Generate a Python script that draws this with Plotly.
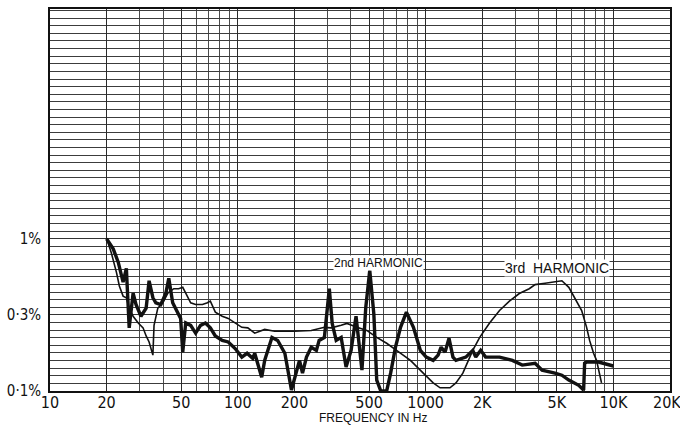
import numpy as np
import plotly.graph_objects as go

# 2nd harmonic distortion (thick trace): frequency in Hz, distortion in %
h2_freq = [20.0, 21.7, 23.1, 24.5, 25.5, 26.1, 26.4, 27.7, 28.7, 30.5, 32.5, 33.7, 35.3, 36.6,
           38.9, 41.4, 42.9, 45.0, 47.9, 49.6, 50.9, 52.8, 56.1, 59.6, 63.3, 67.2, 71.4, 75.9,
           82.6, 88.9, 96.8, 105, 112, 120, 123, 134, 139, 152, 163, 178, 193, 205, 213, 221,
           232, 246, 262, 271, 289, 307, 318, 334, 355, 377, 401, 426, 441, 458, 480, 504,
           530, 549, 577, 620, 651, 691, 735, 790, 861, 937, 1007, 1097, 1165, 1209, 1269,
           1332, 1398, 1450, 1637, 1782, 1848, 1964, 2086, 2474, 2896, 3269, 3828, 4169,
           4880, 5313, 5785, 6531, 6937, 7022, 7195, 8325, 9990]
h2_pct = [1.0, 0.86, 0.70, 0.52, 0.64, 0.39, 0.26, 0.44, 0.37, 0.31, 0.35, 0.53, 0.41, 0.38,
          0.37, 0.44, 0.55, 0.38, 0.33, 0.30, 0.18, 0.28, 0.27, 0.24, 0.27, 0.28, 0.26, 0.23,
          0.215, 0.21, 0.19, 0.167, 0.177, 0.164, 0.177, 0.123, 0.159, 0.225, 0.215, 0.177,
          0.1015, 0.137, 0.159, 0.131, 0.167, 0.194, 0.185, 0.215, 0.225, 0.47, 0.278, 0.215,
          0.225, 0.144, 0.185, 0.31, 0.215, 0.137, 0.354, 0.62, 0.32, 0.118, 0.1, 0.1, 0.131,
          0.194, 0.262, 0.33, 0.262, 0.185, 0.167, 0.159, 0.172, 0.194, 0.18, 0.222, 0.167,
          0.159, 0.167, 0.185, 0.167, 0.185, 0.167, 0.167, 0.159, 0.148, 0.152, 0.137, 0.131,
          0.127, 0.118, 0.109, 0.1015, 0.152, 0.155, 0.155, 0.146]

# 3rd harmonic distortion (thin trace)
h3_freq = [20.0, 21.2, 22.6, 23.4, 24.5, 25.5, 26.4, 27.7, 29.5, 31.3, 32.5, 33.7, 35.3, 35.8,
           37.5, 39.9, 42.4, 45.6, 48.4, 50.9, 52.8, 56.1, 59.6, 64.8, 68.9, 71.4, 75.9, 82.6,
           88.9, 96.8, 105, 113, 123, 139, 157, 200, 246, 289, 314, 355, 381, 431, 486, 549,
           620, 700, 830, 971, 1097, 1194, 1348, 1450, 1578, 1782, 1940, 2190, 2474, 2793,
           3153, 3560, 3828, 4324, 4880, 5313, 5785, 6222, 6772, 7195, 7464, 7836, 8127, 8637]
h3_pct = [1.01, 0.81, 0.60, 0.49, 0.42, 0.41, 0.35, 0.31, 0.28, 0.26, 0.23, 0.21, 0.172, 0.27,
          0.35, 0.38, 0.44, 0.47, 0.47, 0.48, 0.44, 0.38, 0.37, 0.37, 0.38, 0.39, 0.33, 0.31,
          0.30, 0.28, 0.262, 0.26, 0.24, 0.254, 0.247, 0.247, 0.25, 0.262, 0.26, 0.27, 0.278,
          0.262, 0.25, 0.225, 0.206, 0.185, 0.159, 0.131, 0.113, 0.105, 0.105, 0.113, 0.131,
          0.185, 0.225, 0.28, 0.338, 0.39, 0.437, 0.47, 0.50, 0.51, 0.52, 0.53, 0.48, 0.41,
          0.338, 0.262, 0.215, 0.177, 0.159, 0.113]

# Axis labelling
x_tick_vals = [10, 20, 50, 100, 200, 500, 1000, 2000, 5000, 10000]
x_tick_text = ["10", "20", "50", "100", "200", "500", "1000", "2K", "5K", "10K"]
y_tick_vals = [0.1, 0.3162, 1.0]
y_tick_text = ["0·1%", "0·3%", "1%"]

# Log-paper ruling: every digit per decade on x, every 1 dB on y
x_minor = [d * 10 ** e for e in (1, 2, 3, 4) for d in range(1, 10) if d * 10 ** e <= 20000]
y_minor = list(0.1 * 10 ** (np.arange(0, 51) / 20.0))

INK = "#111111"
NARROW = "Liberation Sans Narrow, DejaVu Sans Condensed, sans-serif"
WIDE = "Liberation Sans, Arial, sans-serif"

fig = go.Figure()
fig.add_trace(go.Scatter(x=h3_freq, y=h3_pct, mode="lines",
                         line=dict(color=INK, width=1.6), hoverinfo="skip",
                         name="3rd HARMONIC"))
fig.add_trace(go.Scatter(x=h2_freq, y=h2_pct, mode="lines",
                         line=dict(color=INK, width=3.4), hoverinfo="skip",
                         name="2nd HARMONIC"))

fig.update_xaxes(
    type="log", range=[1, np.log10(20000)],
    tickmode="array", tickvals=x_tick_vals, ticktext=x_tick_text,
    ticks="", showgrid=True, gridcolor="#2a2a2a", gridwidth=1.3,
    minor=dict(tickmode="array", tickvals=x_minor, showgrid=True,
               gridcolor="#4a4a4a", gridwidth=1.1, ticks=""),
    showline=True, mirror=True, linecolor=INK, linewidth=1.8,
    tickfont=dict(family=NARROW, size=16, color=INK),
    ticklabelstandoff=-4, zeroline=False,
)
fig.update_yaxes(
    type="log", range=[-1, 1.51],
    tickmode="array", tickvals=y_tick_vals, ticktext=y_tick_text,
    ticks="", showgrid=True, gridcolor="#333333", gridwidth=1.1,
    minor=dict(tickmode="array", tickvals=y_minor, showgrid=True,
               gridcolor="#3c3c3c", gridwidth=1.1, ticks=""),
    showline=True, mirror=True, linecolor=INK, linewidth=1.8,
    tickfont=dict(family=NARROW, size=15, color=INK),
    ticklabelstandoff=4, zeroline=False,
)

annotations = [
    dict(text="20K", xref="paper", yref="paper", x=0.995, y=0, yshift=-11,
         xanchor="center", yanchor="middle", showarrow=False,
         font=dict(family=NARROW, size=16, color=INK)),
    dict(text="FREQUENCY IN Hz", xref="paper", yref="paper", x=0.5215, y=-0.0703,
         xanchor="center", yanchor="middle", showarrow=False,
         font=dict(family=WIDE, size=12, color=INK)),
    dict(text="2nd HARMONIC", xref="paper", yref="paper", x=0.5295, y=0.336,
         xanchor="center", yanchor="middle", showarrow=False, bgcolor="white",
         borderpad=0, font=dict(family=WIDE, size=12, color=INK)),
    dict(text="3rd  HARMONIC", xref="paper", yref="paper", x=0.818, y=0.323,
         xanchor="center", yanchor="middle", showarrow=False, bgcolor="white",
         borderpad=0, font=dict(family=WIDE, size=14, color=INK)),
]

fig.update_layout(
    width=680, height=431,
    margin=dict(l=43, r=10, t=7, b=40),
    paper_bgcolor="white", plot_bgcolor="white",
    showlegend=False, annotations=annotations,
)

fig.write_html("out.html")
